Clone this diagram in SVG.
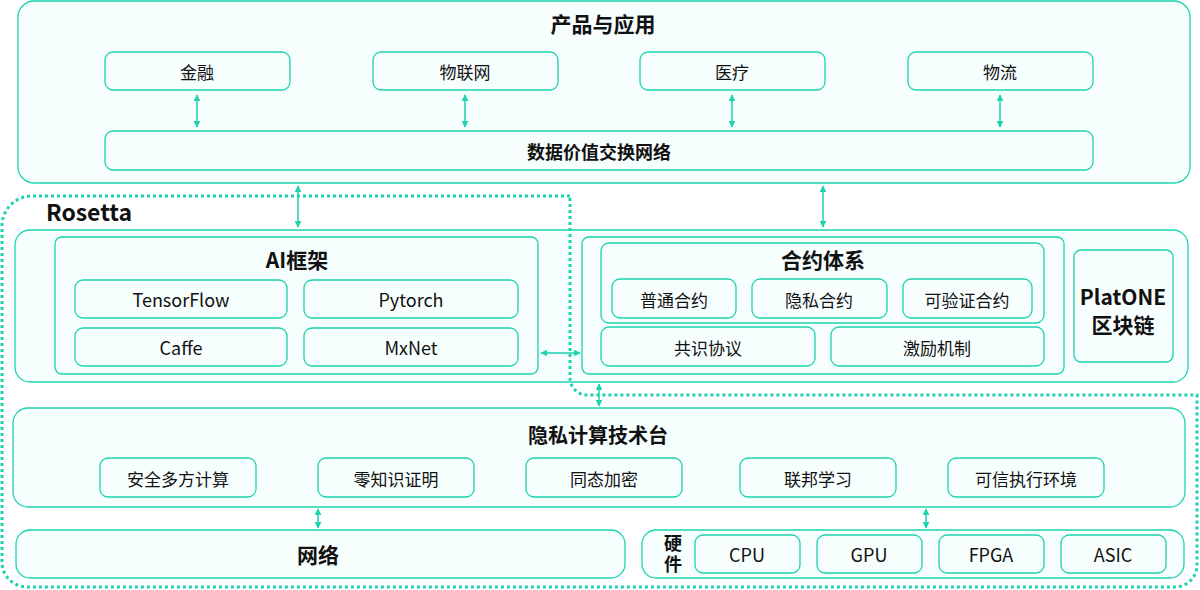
<svg xmlns="http://www.w3.org/2000/svg" width="1200" height="590" viewBox="0 0 1200 590">
<defs>
<style>
.box{fill:#f7fefe;stroke:#1dd3b0;stroke-width:1.3}
.t{font-family:"Noto Sans CJK SC","Noto Sans",sans-serif;fill:#111;text-anchor:middle;dominant-baseline:central}
.s{font-size:17px}
.l{font-size:18px}
.h{font-size:21px;font-weight:bold}
.c{stroke:#1dd3b0;stroke-width:1.5;fill:none;marker-start:url(#ah);marker-end:url(#ah)}
.dot{fill:none;stroke:#1dd3b0;stroke-width:3;stroke-dasharray:3 3}
</style>
<marker id="ah" viewBox="0 0 10 10" refX="9" refY="5" markerWidth="7" markerHeight="7" orient="auto-start-reverse" markerUnits="userSpaceOnUse">
<path d="M0 0L10 5L0 10Z" fill="#1dd3b0"/>
</marker>
</defs>
<rect width="1200" height="590" fill="#fff"/>

<g id="products">
<rect class="box" x="18" y="1" width="1172" height="182" rx="16"/>
<text class="t h" x="603" y="23">产品与应用</text>
</g>
<g id="finance"><rect class="box" x="105" y="52" width="185" height="38" rx="8"/><text class="t s" x="197" y="71">金融</text></g>
<g id="iot"><rect class="box" x="373" y="52" width="185" height="38" rx="8"/><text class="t s" x="465" y="71">物联网</text></g>
<g id="medical"><rect class="box" x="640" y="52" width="185" height="38" rx="8"/><text class="t s" x="732" y="71">医疗</text></g>
<g id="logistics"><rect class="box" x="908" y="52" width="185" height="38" rx="8"/><text class="t s" x="1000" y="71">物流</text></g>
<g id="dvn"><rect class="box" x="105" y="131" width="988" height="39" rx="8"/><text class="t" x="599" y="151" font-size="18" font-weight="bold">数据价值交换网络</text></g>

<g id="rosetta-row">
<rect class="box" x="15" y="230" width="1173" height="152" rx="15"/>
</g>
<g id="ai">
<rect class="box" x="55" y="237" width="483" height="137" rx="7"/>
<text class="t h" x="297" y="259">AI框架</text>
</g>
<g id="tensorflow"><rect class="box" x="75" y="280" width="212" height="38" rx="8"/><text class="t l" x="181" y="299">TensorFlow</text></g>
<g id="pytorch"><rect class="box" x="304" y="280" width="214" height="38" rx="8"/><text class="t l" x="411" y="299">Pytorch</text></g>
<g id="caffe"><rect class="box" x="75" y="328" width="212" height="38" rx="8"/><text class="t l" x="181" y="347">Caffe</text></g>
<g id="mxnet"><rect class="box" x="304" y="328" width="214" height="38" rx="8"/><text class="t l" x="411" y="347">MxNet</text></g>

<g id="contract-group"><rect class="box" x="582" y="237" width="482" height="137" rx="7"/></g>
<g id="contract">
<rect class="box" x="601" y="243" width="443" height="80" rx="8"/>
<text class="t h" x="823" y="259">合约体系</text>
</g>
<g id="normal"><rect class="box" x="612" y="279" width="124" height="39" rx="8"/><text class="t s" x="674" y="299">普通合约</text></g>
<g id="private"><rect class="box" x="752" y="279" width="135" height="39" rx="8"/><text class="t s" x="819" y="299">隐私合约</text></g>
<g id="verifiable"><rect class="box" x="903" y="279" width="129" height="39" rx="8"/><text class="t s" x="967" y="299">可验证合约</text></g>
<g id="consensus"><rect class="box" x="601" y="327" width="214" height="39" rx="8"/><text class="t s" x="708" y="347">共识协议</text></g>
<g id="incentive"><rect class="box" x="831" y="327" width="213" height="39" rx="8"/><text class="t s" x="937" y="347">激励机制</text></g>
<g id="platone"><rect class="box" x="1074" y="250" width="99" height="112" rx="7"/>
<text class="t" x="1123" y="296" font-size="21" font-weight="bold">PlatONE</text>
<text class="t" x="1123" y="324" font-size="21" font-weight="bold">区块链</text></g>

<g id="privacy">
<rect class="box" x="13" y="408" width="1172" height="99" rx="15"/>
<text class="t" x="598" y="434" font-size="20" font-weight="bold">隐私计算技术台</text>
</g>
<g id="mpc"><rect class="box" x="100" y="458" width="156" height="39" rx="8"/><text class="t s" x="178" y="478">安全多方计算</text></g>
<g id="zkp"><rect class="box" x="318" y="458" width="156" height="39" rx="8"/><text class="t s" x="396" y="478">零知识证明</text></g>
<g id="he"><rect class="box" x="526" y="458" width="156" height="39" rx="8"/><text class="t s" x="604" y="478">同态加密</text></g>
<g id="fl"><rect class="box" x="740" y="458" width="156" height="39" rx="8"/><text class="t s" x="818" y="478">联邦学习</text></g>
<g id="tee"><rect class="box" x="948" y="458" width="156" height="39" rx="8"/><text class="t s" x="1026" y="478">可信执行环境</text></g>

<g id="network"><rect class="box" x="16" y="530" width="609" height="48" rx="14"/><text class="t h" x="318" y="554">网络</text></g>
<g id="hardware"><rect class="box" x="642" y="530" width="542" height="48" rx="14"/>
<text x="673" y="555" font-family="'Noto Sans CJK SC','Noto Sans',sans-serif" font-size="18" font-weight="bold" fill="#111" writing-mode="vertical-rl" text-anchor="middle" letter-spacing="3">硬件</text></g>
<g id="cpu"><rect class="box" x="695" y="535" width="105" height="38" rx="8"/><text class="t l" x="747" y="554">CPU</text></g>
<g id="gpu"><rect class="box" x="817" y="535" width="105" height="38" rx="8"/><text class="t l" x="869" y="554">GPU</text></g>
<g id="fpga"><rect class="box" x="939" y="535" width="105" height="38" rx="8"/><text class="t l" x="991" y="554">FPGA</text></g>
<g id="asic"><rect class="box" x="1061" y="535" width="105" height="38" rx="8"/><text class="t l" x="1113" y="554">ASIC</text></g>

<g id="rosetta">
<path class="dot" d="M570 196H32A30 30 0 0 0 2 226V562A25 25 0 0 0 27 587H1175A22 22 0 0 0 1197 565V395H587A17 17 0 0 1 570 378Z"/>
<text x="46" y="221" font-family="'Noto Sans CJK SC','Noto Sans',sans-serif" font-size="23" font-weight="bold" fill="#111">Rosetta</text>
</g>

<g id="connectors">
<line class="c" x1="197" y1="95" x2="197" y2="127"/>
<line class="c" x1="465" y1="95" x2="465" y2="127"/>
<line class="c" x1="732" y1="95" x2="732" y2="127"/>
<line class="c" x1="1000" y1="95" x2="1000" y2="127"/>
<line class="c" x1="298" y1="186" x2="298" y2="227"/>
<line class="c" x1="823" y1="186" x2="823" y2="227"/>
<line class="c" x1="541" y1="353" x2="580" y2="353"/>
<line class="c" x1="599" y1="384" x2="599" y2="406"/>
<line class="c" x1="318" y1="509" x2="318" y2="528"/>
<line class="c" x1="926" y1="509" x2="926" y2="528"/>
</g>
</svg>
